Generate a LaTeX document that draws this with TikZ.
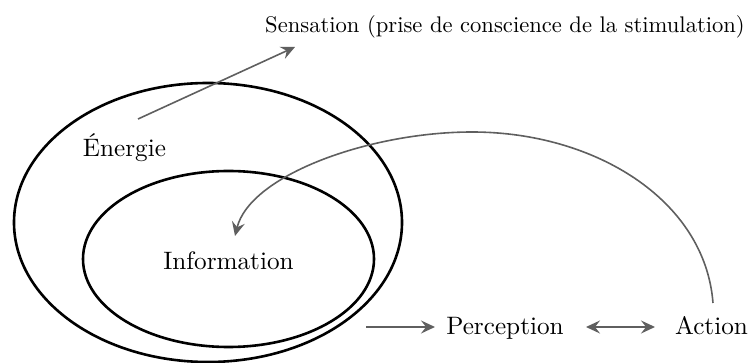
\documentclass[tikz,border=0pt]{standalone}
\usepackage{fontspec}
\setmainfont{lmroman10-regular}[Extension=.otf]
\usetikzlibrary{arrows.meta,calc}
\definecolor{arrowgray}{HTML}{5F5F5F}
\begin{document}
\begin{tikzpicture}[x=1pt,y=-1pt,
  ell/.style={line width=2.6pt,draw=black},
  garrow/.style={line width=1.6pt,draw=arrowgray,arrowgray,-{Stealth[length=14pt,width=13pt,inset=5pt]}},
  lab/.style={inner sep=0pt,anchor=base,font=\fontsize{25.2}{30}\selectfont}]
\useasboundingbox (0,0) rectangle (750,363);
% ellipses
\draw[ell] (208,222.5) ellipse [x radius=194, y radius=139.5];
\draw[ell] (228.5,259) ellipse [x radius=145.5, y radius=88];
% labels
\node[lab,font=\fontsize{22.6}{27}\selectfont] (sens) at (505,33) {Sensation (prise de conscience de la stimulation)};
\node[lab] (ener) at (124.5,157) {Énergie};
\node[lab] (info) at (228.5,269.5) {Information};
\node[lab] (perc) at (505,335) {Perception};
\node[lab] (act) at (711.5,335) {Action};
% connectors
\coordinate (s0) at ($(ener.base)+(13.5,-38)$);
\coordinate (s1) at ($(sens.base)+(-210,14)$);
\draw[garrow] (s0) -- (s1);
\coordinate (p0) at ($(perc.base)+(-139,-8)$);
\draw[garrow] (p0) -- ($(perc.base)+(-70,-8)$);
\draw[garrow,{Stealth[length=14pt,width=13pt,inset=5pt]}-{Stealth[length=14pt,width=13pt,inset=5pt]}]
  ($(perc.base)+(81,-8)$) -- ($(act.base)+(-56.5,-8)$);
\coordinate (c0) at ($(act.base)+(1.5,-32)$);
\coordinate (c1) at ($(info.base)+(6.5,-33.5)$);
\draw[garrow] (c0) .. controls (705,200) and (595,132) .. (472,132)
  .. controls (370,132) and (250,175) .. (c1);
\end{tikzpicture}
\end{document}
